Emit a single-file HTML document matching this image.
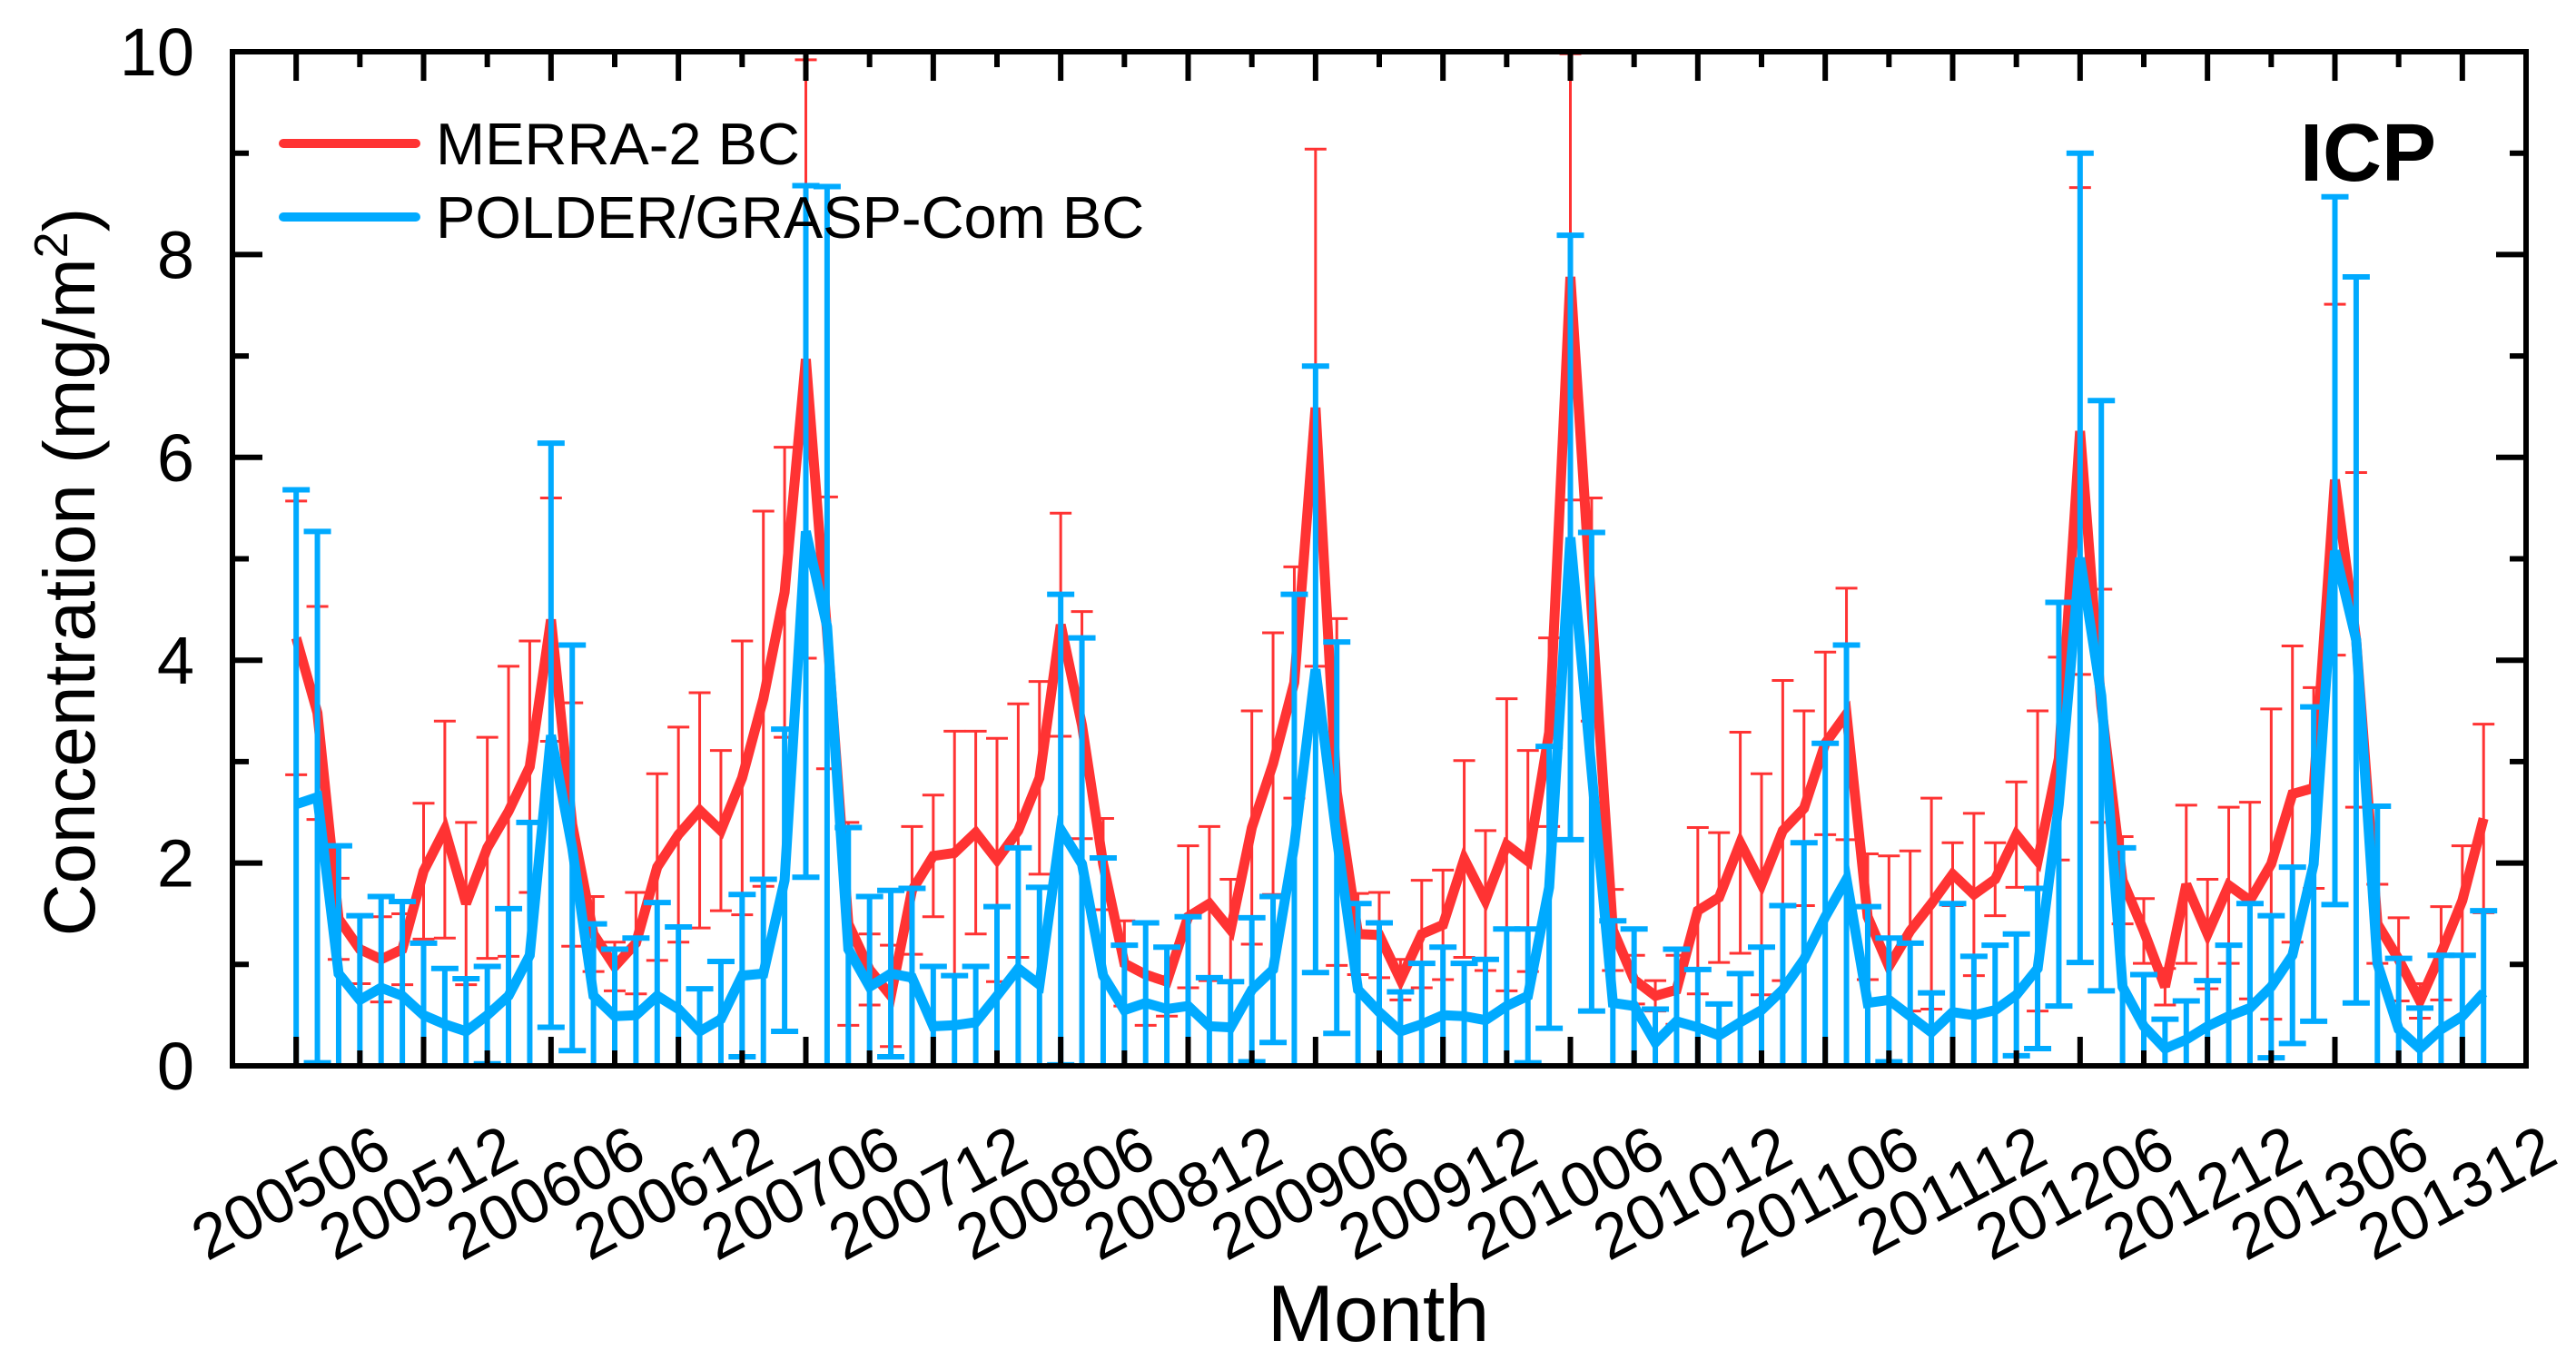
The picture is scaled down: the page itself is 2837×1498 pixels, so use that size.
<!DOCTYPE html>
<html><head><meta charset="utf-8"><style>
html,body{margin:0;padding:0;background:#fff;}
svg{display:block;font-family:"Liberation Sans",Arial,sans-serif;}
</style></head><body>
<svg id="chart" width="2837" height="1498" viewBox="0 0 2837 1498" xmlns="http://www.w3.org/2000/svg">
<defs><clipPath id="plotClip"><rect x="256" y="57" width="2526" height="1117"/></clipPath></defs>
<g id="marks" clip-path="url(#plotClip)"></g>
<g id="axes"></g>
<g>
<line x1="312" y1="158" x2="458" y2="158" stroke="#FF3333" stroke-width="10" stroke-linecap="round"/>
<text x="480" y="181" font-size="65">MERRA-2 BC</text>
<line x1="312" y1="239" x2="458" y2="239" stroke="#00AAFF" stroke-width="10" stroke-linecap="round"/>
<text x="480" y="262" font-size="65">POLDER/GRASP-Com BC</text>
</g>
<text x="2533" y="199" font-size="90" font-weight="bold">ICP</text>
<text x="1518" y="1477" font-size="88" text-anchor="middle">Month</text>
<text transform="translate(104,630) rotate(-90)" font-size="80" text-anchor="middle">Concentration (mg/m<tspan font-size="52" dy="-30">2</tspan><tspan dy="30">)</tspan></text>
</svg>
<script>
const merra = [4.22,3.48,1.45,1.15,1.05,1.15,1.92,2.33,1.60,2.15,2.51,2.95,4.40,2.38,1.30,0.98,1.21,1.96,2.28,2.52,2.32,2.84,3.62,4.67,6.97,4.27,1.40,
0.95,0.69,1.73,2.07,2.10,2.30,2.03,2.32,2.84,4.35,3.36,1.99,1.01,0.90,0.83,1.47,1.60,1.34,2.35,2.98,3.78,6.49,2.70,1.30,1.29,0.85,
1.30,1.39,2.04,1.63,2.18,2.02,3.29,7.78,4.50,1.34,0.85,0.69,0.75,1.53,1.66,2.20,1.79,2.32,2.54,3.18,3.47,1.47,0.98,1.33,1.60,1.89,1.69,
1.84,2.28,2.02,3.03,6.26,3.55,1.83,1.33,0.78,1.79,1.30,1.78,1.63,1.99,2.68,2.74,5.78,4.20,1.40,1.05,0.64,1.11,1.63,2.44];
const merraErr = [1.35,1.05,0.40,0.34,0.42,0.35,0.67,1.07,0.80,1.09,1.43,1.24,1.20,1.20,0.37,0.24,0.50,0.92,1.06,1.16,0.79,1.35,1.85,1.43,2.95,1.34,1.00,
0.35,0.50,0.63,0.60,1.20,1.00,1.20,1.25,0.95,1.10,1.12,0.45,0.42,0.50,0.34,0.70,0.76,0.50,1.15,1.29,1.14,2.55,1.71,0.40,0.42,0.20,
0.53,0.54,0.97,0.69,1.44,1.09,0.93,2.20,1.10,0.40,0.24,0.15,0.34,0.82,0.64,1.09,1.09,1.48,0.96,0.90,1.24,0.62,1.09,0.79,1.04,0.31,0.80,
0.36,0.52,1.48,1.00,2.40,1.15,0.43,0.32,0.18,0.78,0.54,0.77,0.97,1.53,1.46,0.99,1.73,1.65,0.39,0.41,0.17,0.46,0.54,0.93];
const polder = [2.58,2.65,0.91,0.65,0.77,0.69,0.50,0.41,0.34,0.50,0.69,1.09,3.26,2.15,0.69,0.49,0.50,0.69,0.56,0.34,0.46,0.89,0.91,1.83,5.27,4.33,1.15,
0.78,0.91,0.87,0.39,0.40,0.43,0.69,0.96,0.80,2.33,1.99,0.89,0.55,0.62,0.56,0.59,0.39,0.38,0.75,0.95,2.18,3.91,2.25,0.75,0.53,0.34,
0.41,0.50,0.49,0.45,0.59,0.69,1.76,5.21,2.90,0.62,0.59,0.23,0.44,0.38,0.30,0.43,0.55,0.75,1.05,1.47,1.84,0.62,0.65,0.49,0.33,0.53,0.50,
0.55,0.70,0.96,2.58,5.01,3.65,0.78,0.39,0.17,0.26,0.39,0.49,0.57,0.78,1.09,1.99,5.08,4.20,1.01,0.36,0.17,0.36,0.49,0.72];
const polderErr = [3.10,2.62,1.26,0.83,0.90,0.93,0.71,0.55,0.52,0.48,0.86,1.31,2.88,2.00,0.71,0.66,0.76,0.92,0.81,0.42,0.57,0.80,0.93,1.49,3.41,4.34,1.20,
0.89,0.82,0.88,0.59,0.49,0.55,0.88,1.19,0.96,2.32,2.23,1.16,0.64,0.79,0.61,0.88,0.48,0.45,0.71,0.72,2.47,2.99,1.93,0.85,0.88,0.39,
0.60,0.67,0.52,0.60,0.76,0.66,1.39,2.98,2.36,0.81,0.76,0.33,0.71,0.57,0.31,0.48,0.62,0.83,1.15,1.71,2.31,0.95,0.61,0.72,0.39,1.07,0.58,
0.64,0.60,0.79,1.99,3.99,2.91,1.37,0.51,0.29,0.38,0.45,0.70,1.03,0.70,0.87,1.55,3.49,3.58,1.55,0.70,0.40,0.73,0.60,0.81];
const xTickLabels = ["200506","200512","200606","200612","200706","200712","200806","200812","200906","200912","201006","201012","201106","201112","201206","201212","201306","201312"];
const yTickLabels = ["0","2","4","6","8","10"];
const firstMonthOffset = 3;   // data starts 200503; axis starts 200412
const axisMonths = 108;
const yMax = 10;

const NS = "http://www.w3.org/2000/svg";
const L = 256, R = 2782, T = 57, B = 1174;
function xPos(m) { return L + (R - L) * m / axisMonths; }
function yPos(v) { return B - (B - T) * v / yMax; }
function mk(tag, attrs, parent) {
  const e = document.createElementNS(NS, tag);
  for (const k in attrs) e.setAttribute(k, attrs[k]);
  parent.appendChild(e);
  return e;
}
const marks = document.getElementById('marks');
const axes = document.getElementById('axes');

function drawErr(vals, errs, color, sw, cw, name) {
  const g = mk('g', {}, marks);
  
  
  vals.forEach((v, i) => {
    const x = xPos(i + firstMonthOffset);
    const hi = yPos(v + errs[i]);
    const lo = yPos(Math.max(v - errs[i], -0.02));
    const bar = mk('path', {d: `M${x},${lo}V${hi}M${x - cw / 2},${hi}H${x + cw / 2}M${x - cw / 2},${lo}H${x + cw / 2}`, stroke: color, 'stroke-width': sw, fill: 'none'}, g);
    
    
  });
}
function drawLine(vals, color, w, name) {
  const d = vals.map((v, i) => (i ? 'L' : 'M') + xPos(i + firstMonthOffset).toFixed(1) + ',' + yPos(v).toFixed(1)).join('');
  const p = mk('path', {d: d, stroke: color, 'stroke-width': w, fill: 'none', 'stroke-linejoin': 'miter', 'stroke-miterlimit': 3}, marks);
  
  
}
drawErr(merra, merraErr, '#FF3333', 3, 24, 'merra');
drawLine(merra, '#FF3333', 11, 'merra');
drawErr(polder, polderErr, '#00AAFF', 6, 30, 'polder');
drawLine(polder, '#00AAFF', 11, 'polder');

const frame = mk('rect', {x: L, y: T, width: R - L, height: B - T, fill: 'none', stroke: '#000', 'stroke-width': 6}, axes);



for (let m = 3; m < axisMonths; m += 3) {
  const x = xPos(m);
  const minor = (m % 6 !== 0);
  const len = minor ? 32 : 17;
  const t = mk('path', {d: `M${x},${B}V${B - len}M${x},${T}V${T + len}`, stroke: '#000', 'stroke-width': 6}, axes);
  
  
}
xTickLabels.forEach((lab, k) => {
  const x = xPos(6 + 6 * k);
  const t = mk('text', {x: 0, y: 0, 'font-size': 70, 'text-anchor': 'end', transform: `translate(${x + 38},${1280}) rotate(-28)`}, axes);
  t.textContent = lab;
  
  
});
for (let v = 1; v < yMax; v++) {
  const y = yPos(v);
  const major = v % 2 === 0;
  const len = major ? 33 : 18;
  const t = mk('path', {d: `M${L},${y}H${L + len}M${R},${y}H${R - len}`, stroke: '#000', 'stroke-width': 6}, axes);
  
  
}
yTickLabels.forEach((lab, k) => {
  const t = mk('text', {x: 214, y: yPos(2 * k) + 26, 'font-size': 74, 'text-anchor': 'end'}, axes);
  t.textContent = lab;
  
  
});
</script>
</body></html>
